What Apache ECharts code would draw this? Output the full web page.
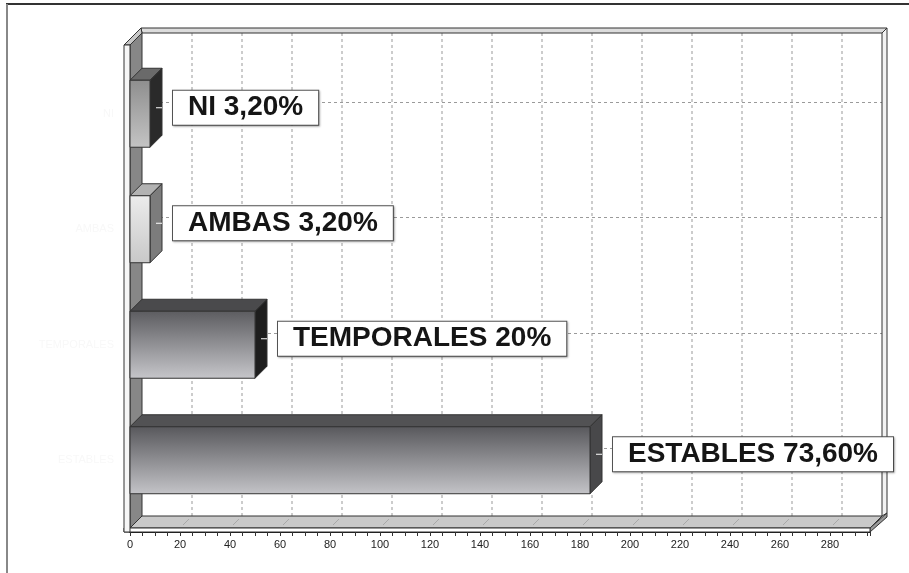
<!DOCTYPE html>
<html>
<head>
<meta charset="utf-8">
<script src="https://cdn.jsdelivr.net/npm/echarts@6/dist/echarts.min.js"></script>
<style>
html, body { margin: 0; padding: 0; background: #fff; }
#chart { width: 909px; height: 573px; }
</style>
</head>
<body>
<div id="chart"></div>
<script>
// data (n = 250)
const categories = ['ESTABLES', 'TEMPORALES', 'AMBAS', 'NI']
const counts = [184, 50, 8, 8]
const barLabels = ['ESTABLES 73,60%', 'TEMPORALES 20%', 'AMBAS 3,20%', 'NI 3,20%']
const xTicks = [0, 20, 40, 60, 80, 100, 120, 140, 160, 180, 200, 220, 240, 260, 280]

const D = 12 // depth of the fake 3d box
const barStyles = [
    { top: '#58585c', bottom: '#c4c4c8', cap: '#525254', side: '#48484a' },
    { top: '#5c5c60', bottom: '#c6c6ca', cap: '#4a4a4c', side: '#1e1e1e' },
    { top: '#ececec', bottom: '#c8c8c8', cap: '#b2b2b2', side: '#7c7c7c' },
    { top: '#8e8e8e', bottom: '#c4c4c4', cap: '#6a6a6a', side: '#2a2a2a' },
]

const chart = echarts.init(document.getElementById('chart'))

const renderFrame = (params, api) => {
    const cs = params.coordSys
    const x0 = cs.x
    const x1 = cs.x + cs.width
    const fTop = cs.y - 11
    const fBot = cs.y + cs.height + 10
    const bTop = fTop - D
    const bBot = fBot - D
    const bx0 = x0 + D
    const bx1 = x1 + D
    const edge = '#333'
    const children = []

    // back wall
    children.push({ type: 'rect', shape: { x: bx0, y: bTop, width: bx1 - bx0, height: bBot - bTop }, style: { fill: '#fff' } })
    xTicks.slice(1).forEach((t) => {
        const px = api.coord([t, 0])[0] + D
        children.push({ type: 'line', shape: { x1: px, y1: bTop, x2: px, y2: bBot }, style: { stroke: '#9a9a9a', lineWidth: 1, lineDash: [3, 3] } })
    })
    categories.forEach((c, i) => {
        const py = Math.round(api.coord([0, i])[1] - D) + 0.5
        children.push({ type: 'line', shape: { x1: bx0, y1: py, x2: bx1, y2: py }, style: { stroke: '#9a9a9a', lineWidth: 1, lineDash: [3, 3] } })
    })
    // top and right beams
    children.push({ type: 'polygon', shape: { points: [[bx0, bTop], [bx1, bTop], [bx1 + 5, bTop - 5], [bx0 - 1, bTop - 5]] }, style: { fill: '#dcdcdc', stroke: edge, lineWidth: 1 } })
    children.push({ type: 'polygon', shape: { points: [[bx1, bTop], [bx1 + 5, bTop - 5], [bx1 + 5, bBot - 3], [bx1, bBot]] }, style: { fill: '#f2f2f2', stroke: edge, lineWidth: 1 } })
    // left wall side
    children.push({ type: 'polygon', shape: { points: [[x0, fTop], [bx0, bTop], [bx0, bBot], [x0, fBot]] }, style: { fill: '#878787', stroke: edge, lineWidth: 1 } })
    // floor
    children.push({ type: 'polygon', shape: { points: [[x0, fBot], [bx0, bBot], [bx1, bBot], [x1, fBot]] }, style: { fill: '#c9c9c9', stroke: edge, lineWidth: 1 } })
    xTicks.slice(1).forEach((t) => {
        const px = api.coord([t, 0])[0]
        children.push({ type: 'line', shape: { x1: px + 3, y1: fBot - 3, x2: px + D - 3, y2: bBot + 3 }, style: { stroke: '#a8a8a8', lineWidth: 1 } })
    })
    children.push({ type: 'polygon', shape: { points: [[x1, fBot], [bx1 + 5, bBot - 3], [bx1 + 5, bBot + 1], [x1, fBot + 4]] }, style: { fill: '#9a9a9a', stroke: edge, lineWidth: 1 } })
    children.push({ type: 'rect', shape: { x: x0 - 6, y: fBot, width: x1 - x0 + 6, height: 4 }, style: { fill: '#fff', stroke: edge, lineWidth: 1 } })
    // left wall front and top
    children.push({ type: 'polygon', shape: { points: [[x0 - 6, fTop], [x0, fTop], [bx0, bTop], [bx0 - 1, bTop - 5]] }, style: { fill: '#c8c8c8', stroke: edge, lineWidth: 1 } })
    children.push({ type: 'rect', shape: { x: x0 - 6, y: fTop, width: 6, height: fBot + 4 - fTop }, style: { fill: '#f6f6f6', stroke: edge, lineWidth: 1 } })

    return { type: 'group', children }
}

const renderBar = (params, api) => {
    const i = params.dataIndex
    const c = api.value(1)
    const p0 = api.coord([0, c])
    const p1 = api.coord([api.value(0), c])
    const h = api.size([0, 1])[1] * 0.58
    const top = p1[1] - h / 2
    const bot = p1[1] + h / 2
    const xs = p0[0]
    const xe = p1[0]
    const s = barStyles[i]

    return {
        type: 'group',
        children: [
            { type: 'polygon', shape: { points: [[xs, top], [xe, top], [xe + D, top - D], [xs + D, top - D]] }, style: { fill: s.cap, stroke: '#333', lineWidth: 1 } },
            { type: 'polygon', shape: { points: [[xe, top], [xe + D, top - D], [xe + D, bot - D], [xe, bot]] }, style: { fill: s.side, stroke: '#333', lineWidth: 1 } },
            {
                type: 'rect',
                shape: { x: xs, y: top, width: xe - xs, height: h },
                style: {
                    fill: new echarts.graphic.LinearGradient(0, 0, 0, 1, [
                        { offset: 0, color: s.top },
                        { offset: 1, color: s.bottom },
                    ]),
                    stroke: '#333',
                    lineWidth: 1,
                },
            },
            { type: 'line', shape: { x1: xe + D / 2, y1: p1[1] - 6, x2: xe + D, y2: p1[1] - 6 }, style: { stroke: '#fff', lineWidth: 1 } },
            {
                type: 'text',
                x: xe + D + 11,
                y: p1[1] - 6,
                style: {
                    text: barLabels[i],
                    fill: '#151515',
                    fontSize: 28,
                    fontWeight: 'bold',
                    fontFamily: '"Liberation Sans", Arial, sans-serif',
                    align: 'left',
                    verticalAlign: 'middle',
                    lineHeight: 28,
                    backgroundColor: '#fff',
                    borderColor: '#555',
                    borderWidth: 1,
                    padding: [3, 15, 3, 15],
                    shadowColor: 'rgba(0,0,0,0.25)',
                    shadowBlur: 2,
                    shadowOffsetX: 1,
                    shadowOffsetY: 1,
                },
            },
        ],
    }
}

chart.setOption({
    animation: false,
    backgroundColor: '#fff',
    grid: {
        left: 130,
        right: 39,
        top: 56,
        bottom: 55,
    },
    xAxis: {
        type: 'value',
        min: 0,
        max: 296,
        interval: 20,
        offset: 14,
        axisLine: {
            show: true,
            lineStyle: { color: '#111', width: 2 },
        },
        axisTick: {
            show: true,
            length: 4,
            lineStyle: { color: '#333' },
        },
        minorTick: {
            show: true,
            splitNumber: 4,
            length: 4,
            lineStyle: { color: '#333' },
        },
        splitLine: { show: false },
        axisLabel: {
            color: '#222',
            fontSize: 11,
            margin: 7,
            fontFamily: '"Liberation Sans Narrow", "Liberation Sans", sans-serif',
            formatter: (v) => (xTicks.includes(v) ? String(v) : ''),
        },
    },
    yAxis: {
        type: 'category',
        data: categories,
        offset: 6,
        axisLine: { show: false },
        axisTick: {
            show: true,
            alignWithLabel: true,
            length: 4,
            lineStyle: { color: '#aaa' },
        },
        axisLabel: {
            color: '#f8f8f8',
            fontSize: 11,
            margin: 10,
        },
    },
    graphic: [
        { type: 'line', shape: { x1: 6, y1: 4, x2: 909, y2: 4 }, style: { stroke: '#333', lineWidth: 2 } },
        { type: 'line', shape: { x1: 7, y1: 4, x2: 7, y2: 573 }, style: { stroke: '#888', lineWidth: 2 } },
    ],
    series: [
        {
            type: 'custom',
            z: 1,
            silent: true,
            renderItem: renderFrame,
            data: [[0, 0]],
            encode: { x: 0, y: 1 },
        },
        {
            type: 'custom',
            z: 3,
            renderItem: renderBar,
            data: counts.map((v, i) => [v, i]),
            encode: { x: 0, y: 1 },
        },
    ],
})

window.addEventListener('resize', () => chart.resize())
</script>
</body>
</html>
